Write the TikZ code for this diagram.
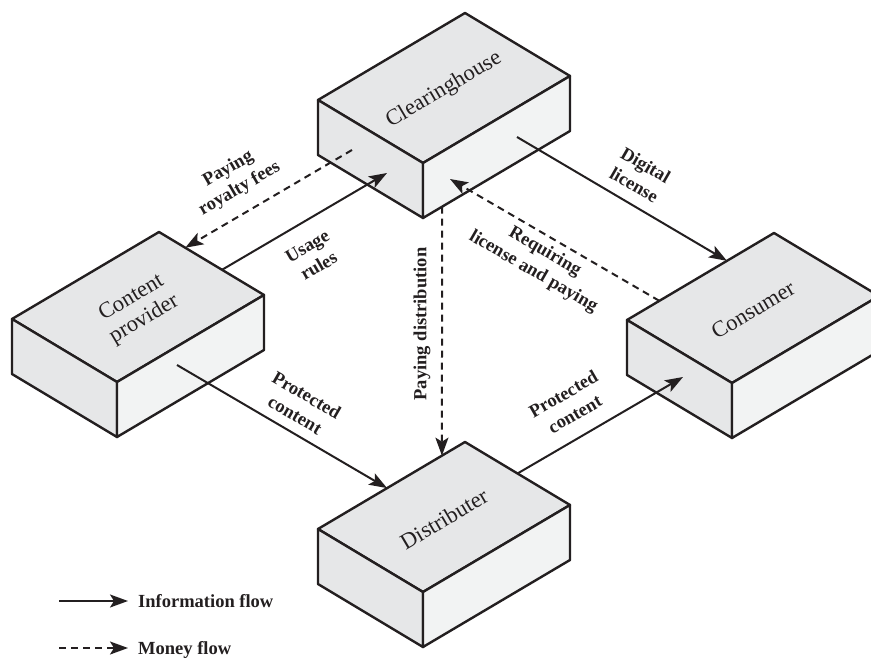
\documentclass[tikz,border=0pt]{standalone}
\usepackage{fontspec}
\setmainfont{Liberation Serif}
\usetikzlibrary{arrows.meta,calc}

\definecolor{ink}{RGB}{35,31,32}
\definecolor{topface}{RGB}{230,231,232}
\definecolor{sideface}{RGB}{242,243,243}

\begin{document}
\begin{tikzpicture}[
    x=1pt, y=-1pt,
    every node/.style={text=ink},
    edge/.style={draw=ink, line width=2.4pt, line join=round},
    boxlabel/.style={font=\fontsize{22.5}{25}\selectfont, align=center, rotate=30.6},
    lbl/.style={font=\bfseries\fontsize{18.5}{23}\selectfont, align=center},
    legend/.style={font=\bfseries\fontsize{18.5}{22}\selectfont, anchor=base west, inner sep=0pt},
    info/.style={draw=ink, line width=2pt, -{Stealth[length=18pt, width=13pt, inset=4pt]}},
    money/.style={info, dash pattern=on 7pt off 5pt},
    pics/slab/.style={code={
        \coordinate (-L) at (0,0);
        \coordinate (-T) at (147,-87);
        \coordinate (-R) at (252,-24);
        \coordinate (-F) at (105,63);
        \coordinate (-Lb) at (0,55);
        \coordinate (-Fb) at (105,118);
        \coordinate (-Rb) at (252,31);
        \filldraw[edge, fill=topface] (-L) -- (-T) -- (-R) -- (-F) -- cycle;
        \filldraw[edge, fill=topface] (-L) -- (-F) -- (-Fb) -- (-Lb) -- cycle;
        \filldraw[edge, fill=sideface] (-F) -- (-R) -- (-Rb) -- (-Fb) -- cycle;
        \node[boxlabel] (-name) at (126,-10) {#1};
    }}
]
\useasboundingbox (0,0) rectangle (871,658);

\pic (ch) at (318,100) {slab={Clearinghouse}};
\pic (cp) at (12,319) {slab={Content\\provider}};
\pic (cs) at (627,320) {slab={Consumer}};
\pic (ds) at (318,529) {slab={Distributer}};

\draw[money] ($(ch-L)+(34,50)$) -- ($(cp-T)!0.25!(cp-R)$);
\draw[info] ($(cp-T)!0.6!(cp-R)$) -- ($(ch-L)+(69,73)$);
\draw[info] ($(ch-L)+(199,37)$) -- ($(cs-L)!0.68!(cs-T)$);
\draw[money] ($(cs-L)!0.22!(cs-T)$) -- ($(ch-L)+(132,79)$);
\draw[money] ($(ch-Fb)!0.13!(ch-Rb)$) -- ($(ds-L)!0.843!(ds-T)$);
\draw[info] ($(cp-L)+(165,46)$) -- ($(ds-L)!0.47!(ds-T)$);
\draw[info] ($(ds-T)!0.5!(ds-R)$) -- ($(cs-L)+(56,57)$);

\node[lbl, rotate=30] (royalty) at (234,179) {Paying\\royalty fees};
\node[lbl, rotate=30] (usage) at (313,256) {Usage\\rules};
\node[lbl, rotate=-30] (license) at (640,175) {Digital\\license};
\node[lbl, rotate=-30] (requiring) at (539,262) {Requiring\\license and paying};
\node[lbl, rotate=90] (distribution) at (422,324) {Paying distribution};
\node[lbl, rotate=-30] (prot-left) at (301,405) {Protected\\content};
\node[lbl, rotate=30] (prot-right) at (569,404) {Protected\\content};

\coordinate (info-a) at (59,601);
\coordinate (info-b) at (128,601);
\coordinate (money-a) at (59,648);
\coordinate (money-b) at (128,648);
\draw[info] (info-a) -- (info-b);
\draw[money] (money-a) -- (money-b);
\node[legend] (info-text) at (138,607) {Information flow};
\node[legend] (money-text) at (138,654) {Money flow};
\end{tikzpicture}
\end{document}
